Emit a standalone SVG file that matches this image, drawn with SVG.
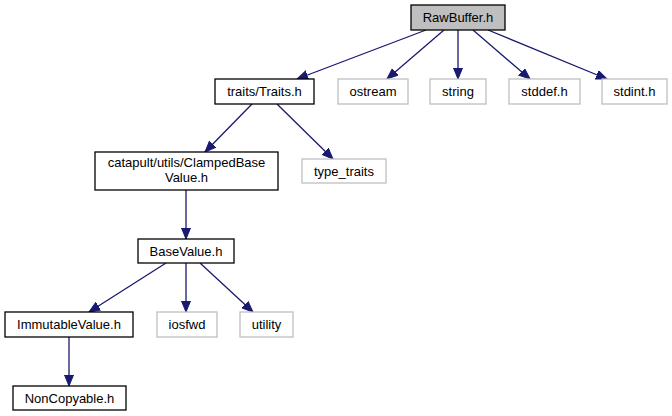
<svg xmlns="http://www.w3.org/2000/svg" width="672" height="416" viewBox="0 0 672 416">
<style>
text{font-family:"Liberation Sans",Arial,sans-serif;font-size:13px;text-anchor:middle;fill:#000}
.n{fill:#fff;stroke:#000;stroke-width:1.3}
.g{fill:#fff;stroke:#bfbfbf;stroke-width:1.3}
.r{fill:#bfbfbf;stroke:#000;stroke-width:1.3}
.e{stroke:#191970;stroke-width:1.3;fill:none;marker-end:url(#a)}
</style>
<defs>
<marker id="a" markerUnits="userSpaceOnUse" markerWidth="12" markerHeight="10" refX="11" refY="5" orient="auto">
<path d="M0,0.5 L11,5 L0,9.5 Z" fill="#191970" stroke="#191970"/>
</marker>
</defs>
<rect width="672" height="416" fill="#fff"/>
<g id="edges">
<line class="e" x1="426" y1="30" x2="297" y2="79"/>
<line class="e" x1="444" y1="30" x2="387" y2="79"/>
<line class="e" x1="458" y1="30" x2="458" y2="79"/>
<line class="e" x1="473" y1="30" x2="530" y2="79"/>
<line class="e" x1="488" y1="30" x2="607" y2="79"/>
<line class="e" x1="252" y1="104" x2="205" y2="152"/>
<line class="e" x1="277" y1="104" x2="333" y2="159"/>
<line class="e" x1="186" y1="190" x2="186" y2="239"/>
<line class="e" x1="166" y1="263" x2="89" y2="312"/>
<line class="e" x1="186" y1="263" x2="186" y2="312"/>
<line class="e" x1="200" y1="263" x2="253" y2="312"/>
<line class="e" x1="69" y1="337" x2="69" y2="386"/>
</g>
<g id="RawBuffer"><rect class="r" x="411" y="5" width="94" height="25"/><text x="458" y="22">RawBuffer.h</text></g>
<g id="Traits"><rect class="n" x="215" y="79" width="99" height="25"/><text x="264.5" y="96">traits/Traits.h</text></g>
<g id="ostream"><rect class="g" x="338" y="79" width="70" height="25"/><text x="373" y="96">ostream</text></g>
<g id="string"><rect class="g" x="430" y="79" width="56" height="25"/><text x="458" y="96">string</text></g>
<g id="stddef"><rect class="g" x="509" y="79" width="71" height="25"/><text x="544.5" y="96">stddef.h</text></g>
<g id="stdint"><rect class="g" x="602" y="79" width="65" height="25"/><text x="634.5" y="96">stdint.h</text></g>
<g id="ClampedBaseValue"><rect class="n" x="95" y="152" width="183" height="38"/><text x="186.5" y="167">catapult/utils/ClampedBase</text><text x="186.5" y="182">Value.h</text></g>
<g id="type_traits"><rect class="g" x="302" y="159" width="84" height="24"/><text x="344" y="176">type_traits</text></g>
<g id="BaseValue"><rect class="n" x="138" y="239" width="96" height="24"/><text x="186" y="256">BaseValue.h</text></g>
<g id="ImmutableValue"><rect class="n" x="5" y="312" width="128" height="25"/><text x="69" y="329">ImmutableValue.h</text></g>
<g id="iosfwd"><rect class="g" x="157" y="312" width="60" height="25"/><text x="187" y="329">iosfwd</text></g>
<g id="utility"><rect class="g" x="240" y="312" width="53" height="25"/><text x="266.5" y="329">utility</text></g>
<g id="NonCopyable"><rect class="n" x="13" y="386" width="113" height="24"/><text x="69.5" y="403">NonCopyable.h</text></g>
</svg>
